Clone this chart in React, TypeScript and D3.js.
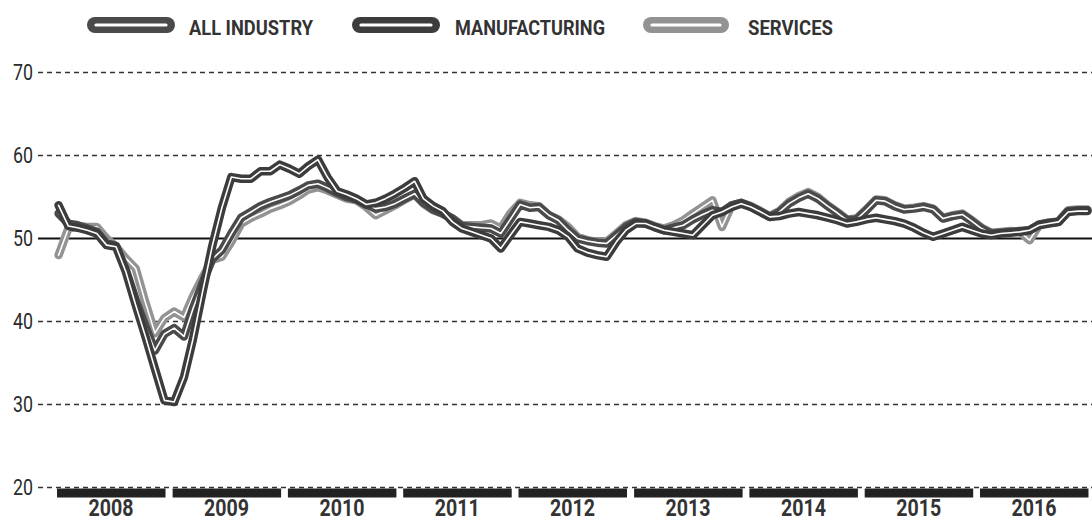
import React from "react";
import * as d3 from "d3";

const years = ["2008", "2009", "2010", "2011", "2012", "2013", "2014", "2015", "2016"];
const yTicks = [20, 30, 40, 50, 60, 70];

// Monthly readings, Jan 2008 – Dec 2016
const manufacturing = [
  54.0, 51.5, 51.3, 51.0, 50.6, 49.2, 49.0, 46.0, 42.0, 38.3, 34.3, 30.5,
  30.3, 33.3, 37.8, 43.6, 49.0, 53.7, 57.4, 57.2, 57.2, 58.1, 58.1, 58.9,
  58.4, 57.8, 58.7, 59.5, 57.4, 55.7, 55.3, 54.8, 54.1, 54.3, 54.8, 55.4,
  56.1, 56.9, 54.8, 53.9, 53.3, 52.0, 51.2, 50.8, 50.4, 50.0, 48.8, 50.4,
  52.0, 51.8, 51.6, 51.4, 51.0, 50.2, 48.8, 48.3, 48.0, 47.8, 49.6, 51.0,
  51.8, 51.8, 51.4, 51.0, 50.8, 50.6, 50.4, 51.6, 52.8, 53.2, 53.8, 54.2,
  53.8, 53.2, 52.6, 52.7, 53.0, 53.2, 53.0, 52.8, 52.5, 52.2, 51.8, 52.0,
  52.3, 52.5, 52.3, 52.1, 51.8, 51.3, 50.7, 50.2, 50.6, 51.0, 51.4, 51.0,
  50.6, 50.4, 50.6, 50.7, 50.8, 51.0, 51.6, 51.8, 52.0, 53.2, 53.3, 53.3,
];
const allIndustry = [
  53.0, 51.8, 51.6, 51.2, 50.8, 49.4, 49.1, 46.2, 42.6, 39.5, 36.5, 38.5,
  39.2, 38.2, 41.5, 44.6, 47.5, 48.6, 50.6, 52.5, 53.2, 53.9, 54.4, 54.8,
  55.2, 55.8, 56.4, 56.6, 56.1, 55.5, 55.0, 54.7, 54.1, 53.6, 53.8, 54.2,
  54.8, 55.4, 54.3, 53.5, 53.0, 52.4, 51.5, 51.4, 51.3, 51.2, 50.6, 52.3,
  54.1, 53.7, 53.8, 52.8, 52.2, 51.0, 50.0, 49.7, 49.5, 49.4, 50.4, 51.4,
  52.0, 51.8, 51.4, 51.0, 51.3, 51.6, 52.3, 52.9, 53.4, 53.2, 54.0, 54.3,
  53.8, 53.2, 52.6, 53.2, 54.2, 54.9, 55.4, 54.8, 53.9, 53.1, 52.2, 52.3,
  53.4, 54.6, 54.5, 53.9, 53.5, 53.6, 53.8, 53.5, 52.4, 52.7, 52.9, 52.1,
  51.2, 50.6, 50.7, 50.8, 50.9, 51.0, 51.7, 51.9, 52.0, 53.3, 53.4, 53.4,
];
const services = [
  48.0, 51.2, 51.5, 51.4, 51.4, 50.0, 49.0, 47.6, 46.4, 42.4, 38.6, 40.4,
  41.2, 40.5, 43.0, 45.3, 47.4, 47.8, 49.6, 51.8, 52.5, 53.0, 53.6, 54.0,
  54.5, 55.2, 55.9, 56.2, 55.8, 55.3, 54.8, 54.6, 53.8, 52.8, 53.4, 54.0,
  54.7, 55.3, 54.2, 53.4, 53.0, 52.4, 51.6, 51.6, 51.6, 51.8, 51.2, 53.0,
  54.3, 54.0, 53.9, 52.8, 52.3, 51.4, 50.2, 49.8, 49.6, 49.6, 50.6, 51.6,
  52.1, 51.9, 51.5, 51.2, 51.6, 52.2, 53.0, 53.8, 54.6, 51.4, 54.0, 54.3,
  53.9, 53.3, 52.7, 53.3, 54.4, 55.1, 55.6, 55.0, 54.0, 53.2, 52.3, 52.4,
  53.5, 54.7, 54.6, 54.0, 53.6, 53.7, 53.9, 53.6, 52.5, 52.8, 53.0, 52.2,
  51.3, 50.7, 50.8, 50.9, 50.8, 49.8, 51.6, 51.9, 52.1, 53.4, 53.5, 53.5,
];

const seriesNames = ["ALL INDUSTRY", "MANUFACTURING", "SERVICES"];
const seriesColors = ["#4a4a4a", "#3c3c3c", "#939393"];

const W = 1092;
const H = 520;
const FONT = "Roboto, 'Noto Sans', sans-serif";

export default function App() {
  const x = d3
    .scaleTime()
    .domain([new Date(2008, 0, 1), new Date(2017, 0, 1)])
    .range([57, 1095.6]);
  const y = d3.scaleLinear().domain([20, 70]).range([487.5, 72.5]);

  const dates = manufacturing.map((_, i) => new Date(2008, i, 6));
  const line = d3
    .line<number>()
    .x((_, i) => x(dates[i]))
    .y((d) => y(d));

  const drawOrder = [
    { values: services, color: seriesColors[2] },
    { values: allIndustry, color: seriesColors[0] },
    { values: manufacturing, color: seriesColors[1] },
  ];

  const legendItems = [
    { name: seriesNames[0], color: seriesColors[0], x0: 87, x1: 175, tx: 189, tw: 124 },
    { name: seriesNames[1], color: seriesColors[1], x0: 352, x1: 440, tx: 455, tw: 150 },
    { name: seriesNames[2], color: seriesColors[2], x0: 643, x1: 729, tx: 748, tw: 85 },
  ];

  return (
    <svg
      width={W}
      height={H}
      style={{ position: "absolute", left: 0, top: 0, background: "#fff" }}
    >
      {/* legend */}
      {legendItems.map((d) => (
        <g key={d.name}>
          <line
            x1={d.x0 + 8}
            x2={d.x1 - 8}
            y1={25}
            y2={25}
            stroke={d.color}
            strokeWidth={16}
            strokeLinecap="round"
          />
          <line
            x1={d.x0 + 9}
            x2={d.x1 - 9}
            y1={25}
            y2={25}
            stroke="#fff"
            strokeWidth={3.2}
            strokeLinecap="round"
          />
          <text
            x={d.tx}
            y={35}
            fontFamily={FONT}
            fontWeight={700}
            fontSize={20.5}
            fill="#333"
            textLength={d.tw}
            lengthAdjust="spacingAndGlyphs"
          >
            {d.name}
          </text>
        </g>
      ))}

      {/* gridlines */}
      {yTicks.map((t) => (
        <g key={t}>
          <line
            x1={38}
            x2={W}
            y1={y(t)}
            y2={y(t)}
            stroke={t === 50 ? "#111" : "#333"}
            strokeWidth={t === 50 ? 2 : 1.5}
            strokeDasharray={t === 50 ? undefined : "5,4"}
          />
          <text
            x={33}
            y={y(t) + 7.5}
            textAnchor="end"
            fontFamily={FONT}
            fontWeight={400}
            fontSize={22.5}
            fill="#2a2a2a"
            textLength={20}
            lengthAdjust="spacingAndGlyphs"
          >
            {t}
          </text>
        </g>
      ))}

      {/* year bars */}
      {years.map((yr) => {
        const x0 = x(new Date(+yr, 0, 1));
        return (
          <g key={yr}>
            <rect x={x0} y={488.5} width={108.5} height={9} fill="#222" />
            <text
              x={x0 + 54 - 22.5}
              y={515.5}
              fontFamily={FONT}
              fontWeight={700}
              fontSize={23}
              fill="#333"
              textLength={45}
              lengthAdjust="spacingAndGlyphs"
            >
              {yr}
            </text>
          </g>
        );
      })}

      {/* series lines */}
      {drawOrder.map((s, k) => (
        <g key={k}>
          <path
            d={line(s.values) || ""}
            fill="none"
            stroke={s.color}
            strokeWidth={8.5}
            strokeLinejoin="round"
            strokeLinecap="round"
          />
          <path
            d={line(s.values) || ""}
            fill="none"
            stroke="#fff"
            strokeWidth={1.6}
            strokeLinejoin="round"
            strokeLinecap="round"
          />
        </g>
      ))}
    </svg>
  );
}
